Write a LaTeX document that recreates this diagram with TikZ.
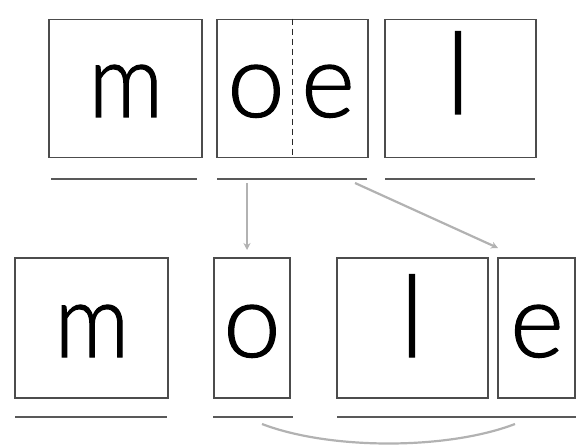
\documentclass[tikz,border=0pt]{standalone}
\usepackage{fontspec}
\newfontfamily\letterfont{Lato Light}[FakeBold=1.2]
\usetikzlibrary{arrows.meta}
\newcommand{\narrowm}{\scalebox{0.9}[1]{m}}
\newcommand{\tallel}{\scalebox{1}[1.1]{l}}
\tikzset{
  x=1pt,y=-1pt,
  box/.style={draw=black!70,line width=1.6pt,inner sep=0pt},
  uline/.style={draw=black!65,line width=1.8pt},
  letter/.style={anchor=base,inner sep=0pt,font=\letterfont\fontsize{103}{103}\selectfont,text=black},
  move/.style={draw=black!30,line width=2.2pt,-{Stealth[length=7pt,width=7pt]}},
  swap/.style={draw=black!30,line width=2.2pt},
}
\begin{document}
\begin{tikzpicture}
\useasboundingbox (0,0) rectangle (577,446);
% top row boxes
\node[box,minimum width=153pt,minimum height=138pt] (t1) at (125.5,88.5) {};
\node[box,minimum width=151pt,minimum height=138pt] (t2) at (292.5,88.5) {};
\node[box,minimum width=151pt,minimum height=138pt] (t3) at (460.5,88.5) {};
\draw[black!85,line width=1.4pt,dash pattern=on 6pt off 4pt] (t2.north) -- (t2.south);
% top letters
\node[letter] (lm1) at (126,117) {\narrowm};
\node[letter] (lo1) at (256,117) {o};
\node[letter] (le1) at (328,117) {e};
\node[letter] (ll1) at (458,114) {\tallel};
% top underlines
\coordinate (u1a) at (51,179); \coordinate (u1b) at (197,179);
\coordinate (u2a) at (217,179); \coordinate (u2b) at (367,179);
\coordinate (u3a) at (385,179); \coordinate (u3b) at (535,179);
\draw[uline] (u1a) -- (u1b);
\draw[uline] (u2a) -- (u2b);
\draw[uline] (u3a) -- (u3b);
% bottom row boxes
\node[box,minimum width=153pt,minimum height=140pt] (b1) at (91.5,328) {};
\node[box,minimum width=76pt,minimum height=140pt] (b2) at (252,328) {};
\node[box,minimum width=151pt,minimum height=140pt] (b3) at (412.5,328) {};
\node[box,minimum width=77pt,minimum height=140pt] (b4) at (536.5,328) {};
% bottom letters
\node[letter] (lm2) at (92,357) {\narrowm};
\node[letter] (lo2) at (252,357) {o};
\node[letter] (ll2) at (412,357) {\tallel};
\node[letter] (le2) at (537,357) {e};
% bottom underlines
\coordinate (v1a) at (15,417); \coordinate (v1b) at (167,417);
\coordinate (v2a) at (213,417); \coordinate (v2b) at (293,417);
\coordinate (v3a) at (337,417); \coordinate (v3b) at (576,417);
\draw[uline] (v1a) -- (v1b);
\draw[uline] (v2a) -- (v2b);
\draw[uline] (v3a) -- (v3b);
% arrows
\coordinate (a1s) at (247,183); \coordinate (a1e) at (247,250);
\coordinate (a2s) at (355,183); \coordinate (a2e) at (498,248);
\draw[move] (a1s) -- (a1e);
\draw[move] (a2s) -- (a2e);
% swap curve
\coordinate (cs) at (262,424); \coordinate (ce) at (515,424);
\draw[swap] (cs) .. controls (330,450) and (447,450) .. (ce);
\end{tikzpicture}
\end{document}
